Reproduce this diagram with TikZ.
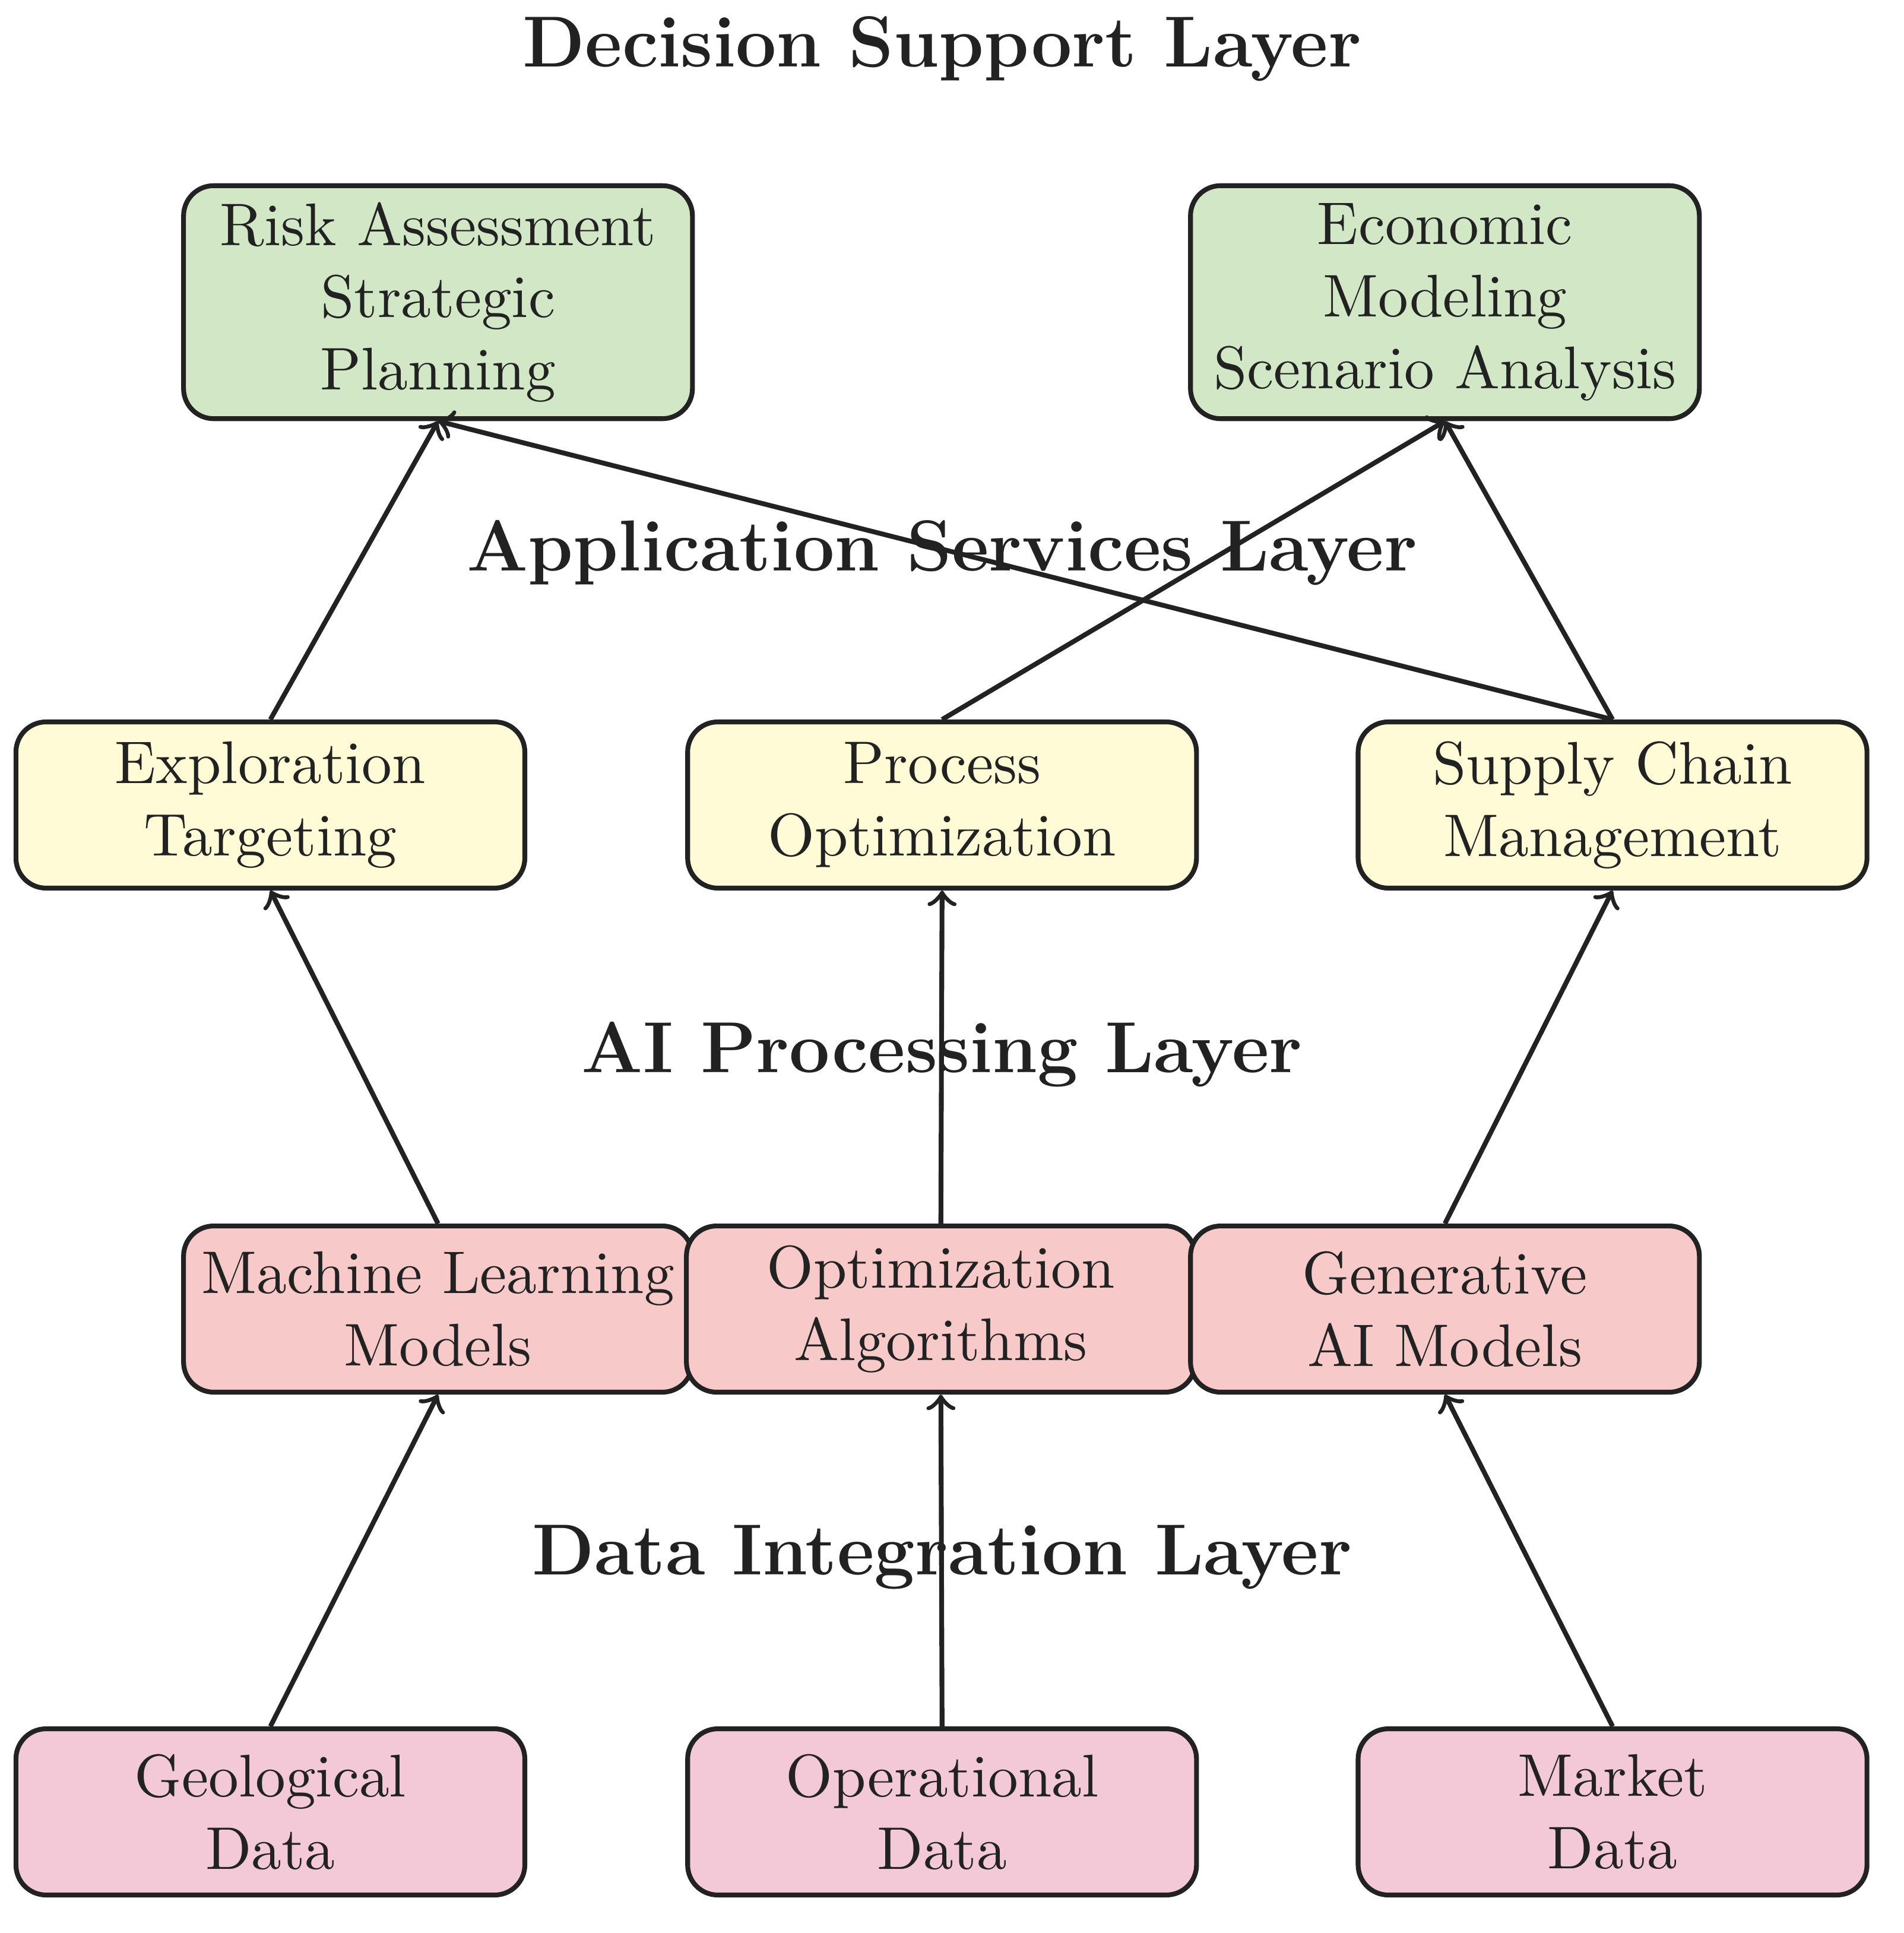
\documentclass[tikz,border=0pt]{standalone}
\usepackage{xcolor}
\definecolor{dgreen}{HTML}{D1E7C6}
\definecolor{dyellow}{HTML}{FEFBD6}
\definecolor{dred}{HTML}{F8C9C9}
\definecolor{dpink}{HTML}{F3C9D7}
\definecolor{ink}{HTML}{222222}
\begin{document}
\begin{tikzpicture}[x=0.00714cm,y=-0.00714cm,
  box/.style={draw=ink,thick,rounded corners=5pt,align=center,text=ink,minimum width=2.97cm,minimum height=0.97cm,inner sep=2pt},
  dec/.style={box,fill=dgreen,minimum height=1.36cm},
  app/.style={box,fill=dyellow},
  ai/.style={box,fill=dred},
  dat/.style={box,fill=dpink},
  ttl/.style={font=\large\bfseries,text=ink},
  arr/.style={->,thick,draw=ink}]
\useasboundingbox (0,0) rectangle (1556,1580);
\node[ttl] (t1) at (770,40) {Decision Support Layer};
\node[ttl] (t2) at (770,452) {Application Services Layer};
\node[ttl] (t3) at (770,862) {AI Processing Layer};
\node[ttl] (t4) at (770,1273) {Data Integration Layer};
\node[dec] (risk) at (358,247) {Risk Assessment\\Strategic\\Planning};
\node[dec] (econ) at (1181,247) {Economic\\Modeling\\Scenario Analysis};
\node[app] (expl) at (221,658) {Exploration\\Targeting};
\node[app] (proc) at (770,658) {Process\\Optimization};
\node[app] (supp) at (1318,658) {Supply Chain\\Management};
\node[ai] (ml) at (358,1070) {Machine Learning\\Models};
\node[ai] (opt) at (769,1070) {Optimization\\Algorithms};
\node[ai] (gen) at (1181,1070) {Generative\\AI Models};
\node[dat] (geo) at (221,1481) {Geological\\Data};
\node[dat] (oper) at (770,1481) {Operational\\Data};
\node[dat] (mark) at (1318,1481) {Market\\Data};
\draw[arr] (geo.north) -- (ml.south);
\draw[arr] (oper.north) -- (opt.south);
\draw[arr] (mark.north) -- (gen.south);
\draw[arr] (ml.north) -- (expl.south);
\draw[arr] (opt.north) -- (proc.south);
\draw[arr] (gen.north) -- (supp.south);
\draw[arr] (expl.north) -- (risk.south);
\draw[arr] (supp.north) -- (risk.south);
\draw[arr] (proc.north) -- (econ.south);
\draw[arr] (supp.north) -- (econ.south);
\end{tikzpicture}
\end{document}
